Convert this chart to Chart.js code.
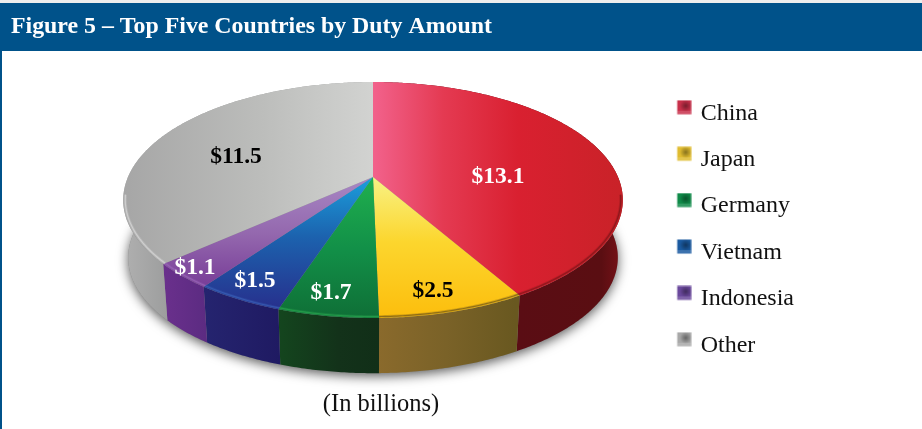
<!DOCTYPE html>
<html>
<head>
<meta charset="utf-8">
<title>Figure 5</title>
<script src="https://cdn.jsdelivr.net/npm/chart.js@4"></script>
<style>
  html, body { margin: 0; padding: 0; background: #fff; }
  canvas { display: block; }
</style>
</head>
<body>
<canvas id="chart" width="922" height="429"></canvas>
<script>
const categories = ["China", "Japan", "Germany", "Vietnam", "Indonesia", "Other"];
const duty = [13.1, 2.5, 1.7, 1.5, 1.1, 11.5];
const titleText = "Figure 5 \u2013 Top Five Countries by Duty Amount";
const noteText = "(In billions)";

const swatchColors = ["#c8304a", "#e0bc30", "#0f8a48", "#1a5aa0", "#6a489c", "#a8a8a8"];
const labelColors = ["#fff", "#000", "#fff", "#fff", "#fff", "#000"];
const labelPos = [[498, 177], [433, 291], [331, 293], [255, 281], [195, 268], [236, 157]];

// top face: [x0, y0, x1, y1, colour stops]
const faceFill = [
  [373, 0, 623, 0, [[0, "#f2628c"], [0.28, "#e43a52"], [0.58, "#d92030"], [1, "#c92228"]]],
  [0, 177, 0, 320, [[0, "#f8f285"], [0.45, "#fcd62e"], [1, "#fcbd0c"]]],
  [0, 177, 0, 320, [[0, "#20b04e"], [0.5, "#129048"], [1, "#0f6e36"]]],
  [0, 177, 0, 310, [[0, "#1b9fdc"], [0.45, "#1c62ae"], [1, "#272f8c"]]],
  [0, 177, 0, 290, [[0, "#a888c4"], [0.5, "#9468ae"], [1, "#763a96"]]],
  [123, 0, 373, 0, [[0, "#a6a6a6"], [0.55, "#bcbdbb"], [1, "#d2d3d1"]]]
];
const sideFill = [
  [515, 0, 623, 0, [[0, "#5a0d14"], [0.8, "#5a0e12"], [1, "#7a1218"]]],
  [378, 0, 515, 0, [[0, "#8a6a2c"], [0.5, "#7a6228"], [1, "#695820"]]],
  [280, 0, 378, 0, [[0, "#14451e"], [0.6, "#13321a"], [1, "#112f18"]]],
  [205, 0, 280, 0, [[0, "#25246f"], [1, "#1f1a62"]]],
  [164, 0, 205, 0, [[0, "#6a308c"], [1, "#5c2b82"]]],
  [123, 0, 169, 0, [[0, "#b0b0b0"], [1, "#9c9d9d"]]]
];
const rimColors = ["#7a1418", "#6a5218", "#2aa850", "#3a62b8", "#9a68b8", "#dcdcdc"];

// the pie is seen in perspective: the centre sits above the middle of the ellipse
const CX = 373, CY = 177, RX = 245, RY = 113.5, K = 0.195;
const BOTTOM_Y = 235, BOTTOM_SCALE = 0.98;

function topPoint(a, f = 1) {
  const u = Math.cos(a) * f, v = Math.sin(a) * f, d = 1 - K * v;
  return [CX + RX * u / d, CY + RY * v / d];
}
function bottomPoint(a) {
  const u = Math.cos(a), v = Math.sin(a), d = 1 - K * v;
  return [CX + BOTTOM_SCALE * RX * u / d, BOTTOM_Y + BOTTOM_SCALE * RY * v / d];
}
function makeFill(ctx, spec) {
  const g = ctx.createLinearGradient(spec[0], spec[1], spec[2], spec[3]);
  spec[4].forEach(s => g.addColorStop(s[0], s[1]));
  return g;
}
function arcAngles(a0, a1) {
  const out = [], n = Math.max(2, Math.ceil((a1 - a0) / 0.01));
  for (let i = 0; i <= n; i++) out.push(a0 + (a1 - a0) * i / n);
  return out;
}
function tracePoints(ctx, pts, start) {
  pts.forEach((p, i) => {
    if (i === 0 && start) ctx.moveTo(p[0], p[1]); else ctx.lineTo(p[0], p[1]);
  });
}

function makeSwatch(color) {
  // transparent margin moves the square where the legend centres it
  const c = document.createElement("canvas");
  c.width = 21; c.height = 27;
  const x = c.getContext("2d");
  x.translate(6, 0);
  x.fillStyle = color;
  x.fillRect(0.5, 0.5, 14, 14);
  const g = x.createRadialGradient(9, 6, 0, 9, 6, 6);
  g.addColorStop(0, "rgba(0,0,0,.4)");
  g.addColorStop(1, "rgba(0,0,0,0)");
  x.fillStyle = g;
  x.fillRect(0.5, 0.5, 14, 14);
  x.fillStyle = "rgba(255,255,255,.15)";
  x.fillRect(0.5, 11, 14, 3.5);
  return c;
}

const pie3d = {
  id: "pie3d",
  beforeDraw(chart) {
    const ctx = chart.ctx;
    ctx.save();
    ctx.fillStyle = "#fff";
    ctx.fillRect(0, 0, 922, 429);
    ctx.fillStyle = "#eeeeee";
    ctx.fillRect(0, 0, 922, 3);
    ctx.fillStyle = "#00528a";
    ctx.fillRect(0, 3, 922, 48);
    ctx.fillRect(0, 51, 2, 378);
    ctx.restore();
  },
  // the arcs come from the library's layout, only their projection is done here
  beforeDatasetDraw(chart) {
    const ctx = chart.ctx;
    const arcs = chart.getDatasetMeta(0).data;
    ctx.save();

    // soft shadow under the whole disc
    ctx.save();
    ctx.shadowColor = "rgba(0,0,0,.65)";
    ctx.shadowBlur = 12;
    ctx.shadowOffsetY = 3;
    ctx.fillStyle = "#888";
    ctx.beginPath();
    tracePoints(ctx, arcAngles(0, Math.PI * 2).map(bottomPoint), true);
    ctx.closePath();
    ctx.fill();
    ctx.restore();

    arcs.forEach((arc, i) => {
      const angles = arcAngles(arc.startAngle, arc.endAngle);
      ctx.beginPath();
      tracePoints(ctx, angles.map(a => topPoint(a)), true);
      tracePoints(ctx, angles.slice().reverse().map(bottomPoint), false);
      ctx.closePath();
      ctx.fillStyle = makeFill(ctx, sideFill[i]);
      ctx.fill();
    });

    arcs.forEach((arc, i) => {
      const angles = arcAngles(arc.startAngle, arc.endAngle);
      ctx.beginPath();
      ctx.moveTo(CX, CY);
      tracePoints(ctx, angles.map(a => topPoint(a)), false);
      ctx.closePath();
      ctx.fillStyle = makeFill(ctx, faceFill[i]);
      ctx.fill();
    });

    // bevel along the front rim only
    arcs.forEach((arc, i) => {
      const front = arcAngles(arc.startAngle, arc.endAngle).filter(a => Math.sin(a) > 0.15);
      if (front.length < 2) return;
      ctx.beginPath();
      tracePoints(ctx, front.map(a => topPoint(a, 0.992)), true);
      ctx.strokeStyle = rimColors[i];
      ctx.lineWidth = 3;
      ctx.globalAlpha = 0.25;
      ctx.stroke();
      ctx.lineWidth = 1.2;
      ctx.globalAlpha = 0.65;
      ctx.stroke();
      ctx.globalAlpha = 1;
    });

    ctx.textAlign = "center";
    ctx.textBaseline = "middle";
    ctx.font = "bold 23.5px 'Liberation Serif'";
    duty.forEach((v, i) => {
      ctx.fillStyle = labelColors[i];
      ctx.fillText("$" + v.toFixed(1), labelPos[i][0], labelPos[i][1]);
    });

    ctx.fillStyle = "#111";
    ctx.font = "24.5px 'Liberation Serif'";
    ctx.fillText(noteText, 381, 405);
    ctx.restore();
    return false;
  }
};

new Chart(document.getElementById("chart").getContext("2d"), {
  type: "pie",
  data: {
    labels: categories,
    datasets: [{ data: duty, backgroundColor: swatchColors, borderWidth: 0 }]
  },
  plugins: [pie3d],
  options: {
    responsive: false,
    animation: false,
    layout: { padding: { left: 11, right: 118, bottom: 22 } },
    plugins: {
      title: {
        display: true,
        text: titleText,
        align: "start",
        color: "#fff",
        font: { family: "'Liberation Serif'", size: 23.85, weight: "bold" },
        padding: { top: 13, bottom: 10 }
      },
      legend: {
        position: "right",
        fullSize: false,
        labels: {
          usePointStyle: true,
          boxWidth: 15,
          color: "#111",
          font: { family: "'Liberation Serif'", size: 24 },
          padding: 22.4,
          generateLabels(chart) {
            return categories.map((name, i) => ({
              text: name,
              pointStyle: makeSwatch(swatchColors[i]),
              fontColor: "#111",
              index: i
            }));
          }
        }
      },
      tooltip: { enabled: false }
    }
  }
});
</script>
</body>
</html>
